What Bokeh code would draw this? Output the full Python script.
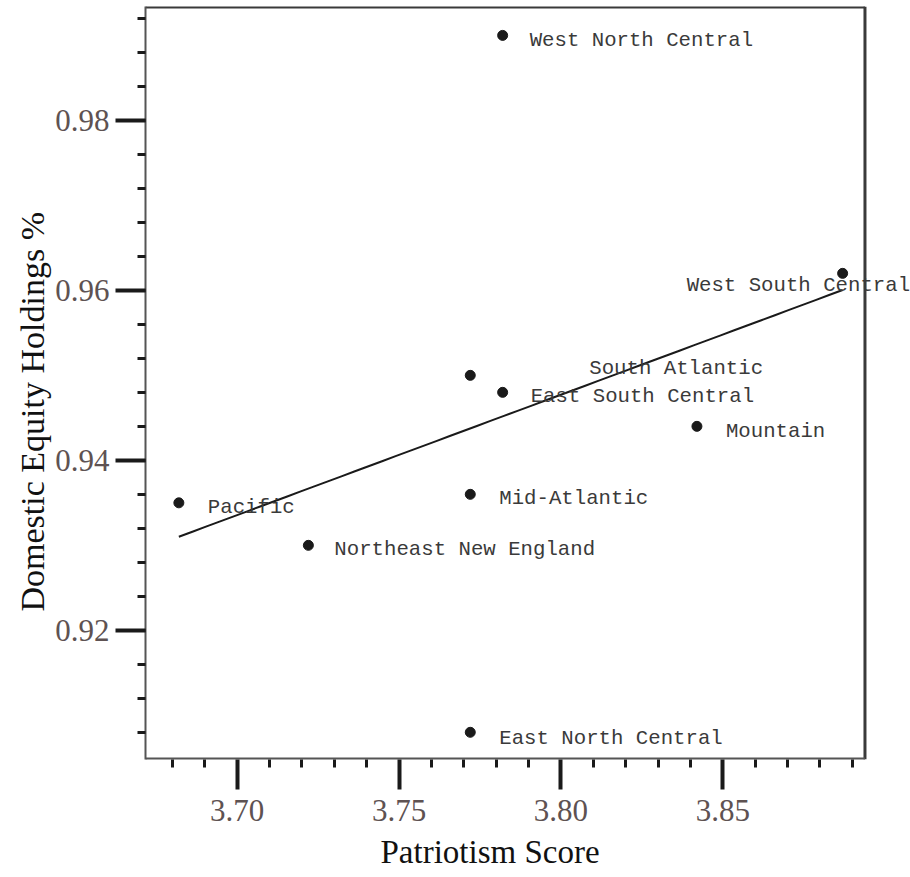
import numpy as np
from bokeh.plotting import figure
from bokeh.models import (ColumnDataSource, LabelSet, Range1d, Title,
                          FixedTicker, SingleIntervalTicker, NumeralTickFormatter)
from bokeh.core.properties import value
from bokeh.embed import file_html
from bokeh.resources import INLINE

# ---- data ----
regions = ["West North Central", "West South Central", "South Atlantic",
           "East South Central", "Mountain", "Mid-Atlantic", "Pacific",
           "Northeast New England", "East North Central"]
patriotism = [3.782, 3.887, 3.772, 3.782, 3.842, 3.772, 3.682, 3.722, 3.772]
equity = [0.990, 0.962, 0.950, 0.948, 0.944, 0.936, 0.935, 0.930, 0.908]

x_major_ticks = [3.70, 3.75, 3.80, 3.85]
x_minor_ticks = [3.68, 3.69, 3.71, 3.72, 3.73, 3.74, 3.76, 3.77, 3.78, 3.79,
                 3.81, 3.82, 3.83, 3.84, 3.86, 3.87, 3.88, 3.89]
y_tick_interval = 0.02
x_title = "Patriotism Score"
y_title = "Domestic Equity Holdings %"

# label placement (screen pixels relative to the point)
label_dx = [27, -156, 119, 28, 29, 29, 29, 26, 29]
label_dy = [-5, -12, 7, -4, -5, -4, -5, -4, -6]

# ---- layout constants (plot box) ----
x_lo, x_box, x_hi = 3.6717, 3.8939, 3.90796
y_lo, y_hi = 0.90480, 0.99340

p = figure(width=910, height=877, output_backend="svg", toolbar_location=None,
           x_range=Range1d(x_lo, x_hi), y_range=Range1d(y_lo, y_hi),
           min_border_left=145, min_border_right=0, min_border_top=6,
           min_border_bottom=117, background_fill_color="white",
           border_fill_color="white")
p.grid.visible = False
p.outline_line_color = None

# box: top, right, bottom edges
p.segment(x0=[x_lo, x_box, x_lo], y0=[y_hi, y_lo, y_lo],
          x1=[x_box, x_box, x_box], y1=[y_hi, y_hi, y_lo],
          line_color=["#3a3a3a", "#3a3a3a", "#555555"], line_width=[4, 3, 4])

# regression line
coef = np.polyfit(patriotism, equity, 1)
tx = np.linspace(min(patriotism), max(patriotism), 50)
ty = np.polyval(coef, tx)
p.line(tx, ty, line_color="#1a1a1a", line_width=2)

src = ColumnDataSource(dict(x=patriotism, y=equity, region=regions,
                            dx=label_dx, dy=label_dy))
p.scatter("x", "y", source=src, size=10, fill_color="#1a1a1a",
          line_color="#1a1a1a")

labels = LabelSet(x="x", y="y", text="region", x_offset="dx", y_offset="dy",
                  source=src, text_font=value("Liberation Mono"),
                  text_font_size="20.7px", text_color="#3a3a3a",
                  text_baseline="middle", text_align="left")
p.add_layout(labels)

# axes
p.xaxis.ticker = FixedTicker(ticks=x_major_ticks, minor_ticks=x_minor_ticks)
p.yaxis.ticker = SingleIntervalTicker(interval=y_tick_interval, num_minor_ticks=5)
p.xaxis.formatter = NumeralTickFormatter(format="0.00")
p.yaxis.formatter = NumeralTickFormatter(format="0.00")

for ax in (p.xaxis, p.yaxis):
    ax.axis_line_color = "#555555"
    ax.axis_line_width = 2
    ax.major_tick_in = 0
    ax.major_tick_out = 30
    ax.minor_tick_in = 0
    ax.minor_tick_out = 8
    ax.major_tick_line_color = "#1a1a1a"
    ax.minor_tick_line_color = "#1a1a1a"
    ax.major_tick_line_width = 4
    ax.minor_tick_line_width = 3
    ax.major_label_text_font = "Liberation Serif"
    ax.major_label_text_font_size = "31px"
    ax.major_label_text_color = "#5e5252"

p.xaxis.axis_line_color = None
p.xaxis.major_label_standoff = 10
p.yaxis.major_label_standoff = 6

# axis titles (offset like the reference)
xt = Title(text=x_title, align="left", offset=235, standoff=16,
           text_font="Liberation Serif", text_font_size="33px",
           text_font_style="normal", text_color="#111111")
yt = Title(text=y_title, align="left", offset=148, standoff=4,
           text_font="Liberation Serif", text_font_size="34px",
           text_font_style="normal", text_color="#111111")
p.add_layout(xt, "below")
p.add_layout(yt, "left")

open("out.html", "w").write(file_html(p, INLINE))
